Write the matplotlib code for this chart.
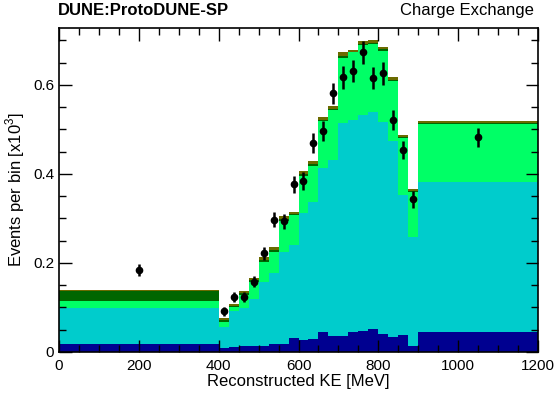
import numpy as np
import matplotlib
matplotlib.use('Agg')
import matplotlib.pyplot as plt
from matplotlib.ticker import MultipleLocator

plt.rcParams['font.family'] = ['Liberation Sans', 'DejaVu Sans']
plt.rcParams['mathtext.fontset'] = 'custom'
plt.rcParams['mathtext.rm'] = 'Liberation Sans'

# bin edges [MeV]
edges = [0, 400, 425, 450, 475, 500, 525, 550, 575, 600, 625, 650, 675,
         700, 725, 750, 775, 800, 825, 850, 875, 900, 1200]

# stacked MC components, events per bin [x10^3], bottom -> top
navy = [0.018, 0.010, 0.012, 0.013, 0.013, 0.014, 0.017, 0.017, 0.031, 0.028, 0.029,
        0.046, 0.036, 0.036, 0.045, 0.047, 0.051, 0.040, 0.034, 0.039, 0.013, 0.046]
teal = [0.081, 0.047, 0.079, 0.085, 0.107, 0.144, 0.160, 0.208, 0.209, 0.284, 0.307,
        0.367, 0.395, 0.478, 0.476, 0.486, 0.489, 0.477, 0.441, 0.314, 0.246, 0.337]
green = [0.016, 0.011, 0.011, 0.030, 0.038, 0.045, 0.048, 0.070, 0.068, 0.084, 0.083,
         0.105, 0.113, 0.146, 0.152, 0.157, 0.151, 0.159, 0.135, 0.127, 0.101, 0.129]
dkgreen = [0.021, 0.004, 0.002, 0.005, 0.003, 0.004, 0.004, 0.004, 0.002, 0.004, 0.004,
           0.003, 0.003, 0.005, 0.002, 0.003, 0.004, 0.004, 0.002, 0.002, 0.002, 0.002]
olive = [0.004, 0.004, 0.004, 0.004, 0.005, 0.006, 0.006, 0.007, 0.005, 0.007, 0.007,
         0.006, 0.006, 0.008, 0.004, 0.006, 0.006, 0.006, 0.005, 0.005, 0.004, 0.005]

# data points
data_x = [200, 412.5, 437.5, 462.5, 487.5, 512.5, 537.5, 562.5, 587.5, 612.5, 637.5,
          662.5, 687.5, 712.5, 737.5, 762.5, 787.5, 812.5, 837.5, 862.5, 887.5, 1050]
data_y = [0.184, 0.091, 0.124, 0.124, 0.158, 0.222, 0.297, 0.294, 0.377, 0.385, 0.470,
          0.497, 0.581, 0.617, 0.632, 0.673, 0.615, 0.626, 0.521, 0.454, 0.343, 0.482]
data_err = [0.014, 0.010, 0.011, 0.011, 0.013, 0.015, 0.017, 0.017, 0.019, 0.020, 0.022,
            0.022, 0.024, 0.025, 0.025, 0.026, 0.025, 0.025, 0.023, 0.021, 0.019, 0.022]

components = [navy, teal, green, dkgreen, olive]
colors = ['#000090', '#00cccc', '#00ff66', '#006600', '#6b6b00']

fig = plt.figure(figsize=(5.58, 3.97), dpi=100)
ax = fig.add_axes([0.1057, 0.1134, 0.8585, 0.8161])

# stack
bottom = np.zeros(len(navy))
for vals, c in zip(components, colors):
    top = bottom + np.array(vals)
    ax.stairs(top, edges, baseline=bottom, fill=True, color=c, lw=0)
    bottom = top

ax.errorbar(data_x, data_y, yerr=data_err, fmt='o', color='black', ms=4.5,
            elinewidth=1.8, capsize=0, zorder=5)

ax.set_xlim(0, 1200)
ax.set_ylim(0, 0.728)
ax.xaxis.set_major_locator(MultipleLocator(200))
ax.xaxis.set_minor_locator(MultipleLocator(50))
ax.yaxis.set_major_locator(MultipleLocator(0.2))
ax.yaxis.set_minor_locator(MultipleLocator(0.05))
ax.yaxis.set_major_formatter(plt.FuncFormatter(lambda v, p: '0' if v == 0 else '%.1f' % v))
ax.tick_params(which='both', direction='in', top=True, right=True, labelsize=11, width=1)
ax.tick_params(which='major', length=9)
ax.tick_params(which='minor', length=5)
ax.tick_params(axis='x', pad=5)
for s in ax.spines.values():
    s.set_linewidth(1.2)

ax.set_xlabel('Reconstructed KE [MeV]', fontsize=12, labelpad=1)
ax.set_ylabel(r'Events per bin [x10$^3$]', fontsize=12, labelpad=4)

fig.text(0.104, 0.955, 'DUNE:ProtoDUNE-SP', fontsize=12, fontweight='bold', ha='left', va='bottom')
fig.text(0.957, 0.955, 'Charge Exchange', fontsize=12, ha='right', va='bottom')

plt.savefig('out.png', dpi=100)
